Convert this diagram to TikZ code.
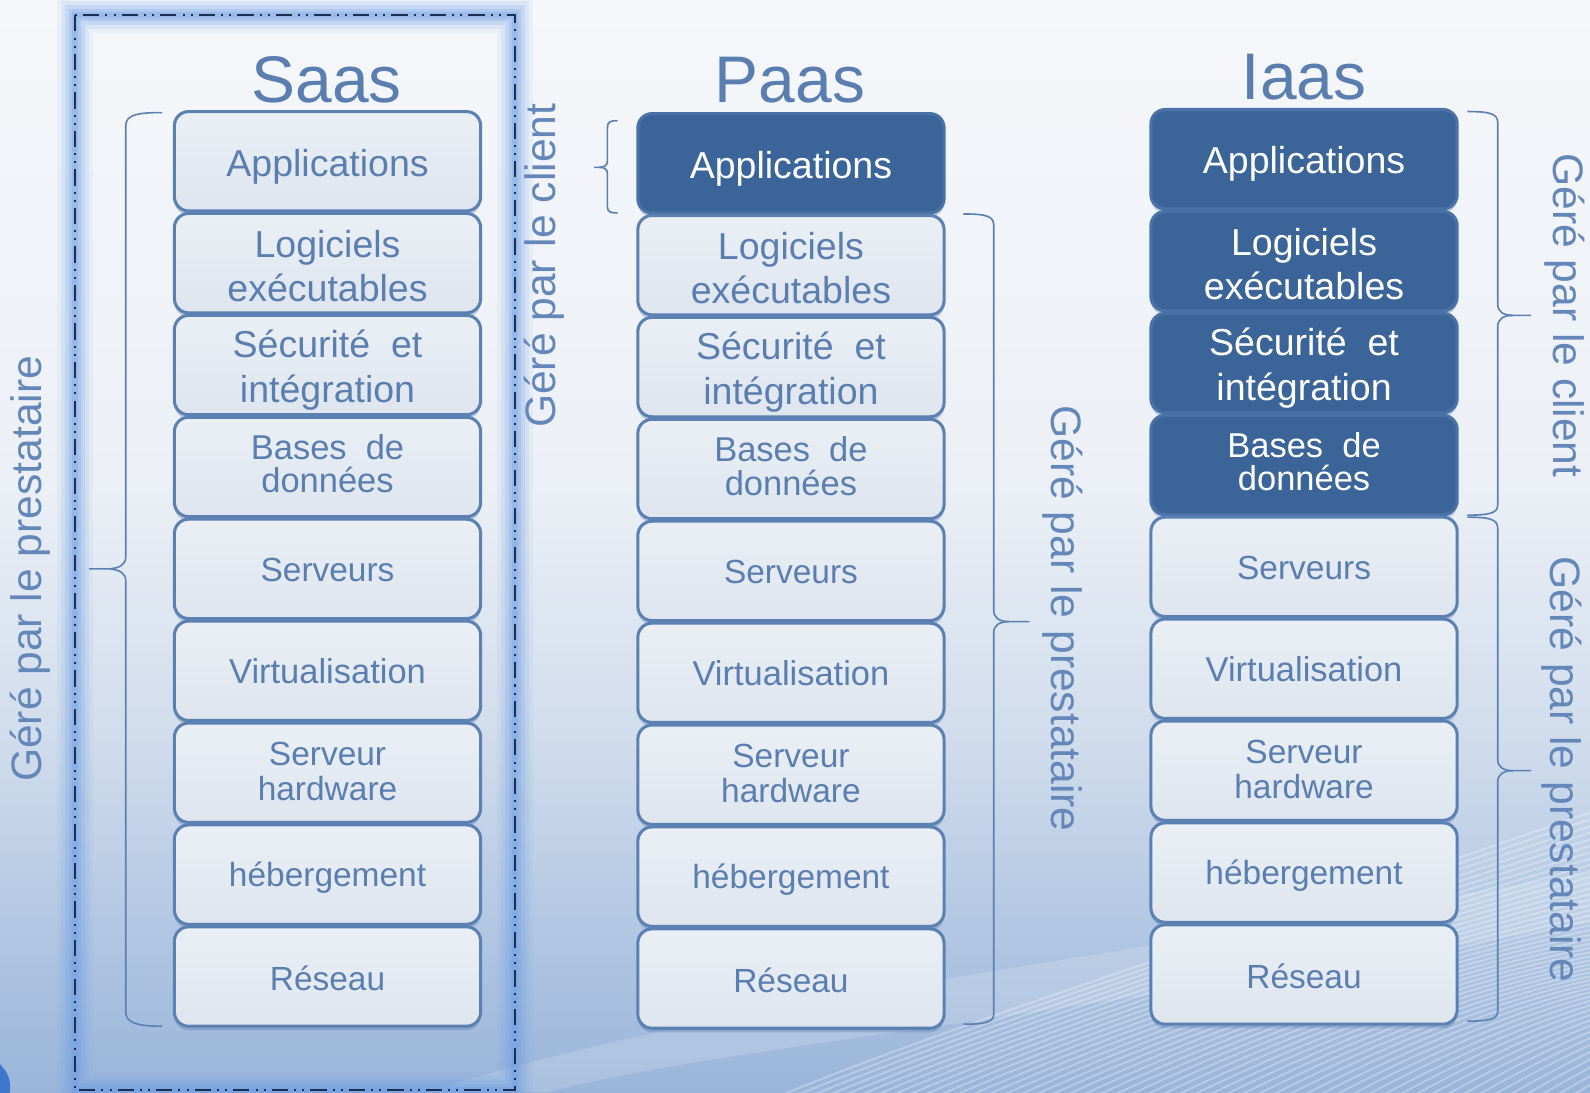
\documentclass[tikz,border=0pt]{standalone}
\usepackage{fontspec}
\setmainfont{Liberation Sans}
\usetikzlibrary{shadows}
\definecolor{bordc}{HTML}{5B80B2}
\definecolor{lighttop}{HTML}{EAEFF5}
\definecolor{lightbot}{HTML}{DEE5EE}
\definecolor{darkf}{HTML}{3B6598}
\definecolor{darkb}{HTML}{4A72A6}
\definecolor{txtc}{HTML}{5A7EAF}
\definecolor{lblc}{HTML}{6387B8}
\definecolor{navy}{HTML}{1B2F52}
\definecolor{glowc}{HTML}{6A9CE6}
\definecolor{shadc}{HTML}{4C6F9F}
\definecolor{ballc}{HTML}{3D78CC}
\definecolor{bgA}{HTML}{9AB5D9}
\definecolor{bgB}{HTML}{B3C8E3}
\definecolor{bgC}{HTML}{D0DCEC}
\definecolor{bgD}{HTML}{ECF0F6}
\definecolor{bgE}{HTML}{F5F7FA}
\pgfdeclareverticalshading{bgshade}{100bp}{color(0bp)=(bgA); color(25bp)=(bgA); color(33bp)=(bgB); color(41bp)=(bgC); color(53bp)=(bgD); color(75bp)=(bgE); color(100bp)=(bgE)}
\tikzset{
  layer/.style={rounded corners=14pt, line width=3pt, minimum width=302pt, minimum height=98pt, inner sep=0pt,
    drop shadow={shadow xshift=0pt, shadow yshift=-4pt, opacity=0.3, fill=shadc}},
  lightbox/.style={draw=bordc, top color=lighttop, bottom color=lightbot},
  darkbox/.style={draw=darkb, fill=darkf},
  boxtext/.style={align=center, inner sep=0pt},
  title/.style={anchor=base, text=txtc, font=\fontsize{65}{70}\selectfont, inner sep=0pt},
  lbl/.style={text=lblc, font=\fontsize{42}{48}\selectfont, inner sep=0pt},
  brc/.style={draw=bordc, line width=1.6pt}
}
\newcommand\colstack[4]{%
  \foreach \k/\txt/\fsz/\fls/\dy in {1/Applications/37/44/5, 2/{Logiciels\\exécutables}/37/44/3, 3/{Sécurité\ \ et\\intégration}/37/44/5, 4/{Bases\ \ de\\données}/34/33/-3, 5/Serveurs/33/35/1, 6/Virtualisation/34/35/0, 7/{Serveur\\hardware}/33/35/-1, 8/hébergement/33/35/3, 9/Réseau/33/35/2}{%
    \pgfmathsetmacro\cy{#3+49+(\k-1)*100.5}%
    \pgfmathsetmacro\ty{\cy+\dy}%
    \ifnum\k>#4\relax
      \node[layer, lightbox] (#1\k) at (#2,\cy) {};
      \node[boxtext, text=txtc, font=\fontsize{\fsz}{\fls}\selectfont] (#1\k t) at (#2,\ty) {\txt};
    \else
      \node[layer, darkbox] (#1\k) at (#2,\cy) {};
      \node[boxtext, text=white, font=\fontsize{\fsz}{\fls}\selectfont] (#1\k t) at (#2,\ty) {\txt};
    \fi
  }%
}
\begin{document}
\begin{tikzpicture}[x=1pt, y=-1pt]
\useasboundingbox (0,0) rectangle (1568,1077);
% background
\shade[shading=bgshade] (0,0) rectangle (1568,1077);
\begin{scope}
  \clip (0,0) rectangle (1568,1077);
  \fill[white, opacity=0.16] (420,1077) .. controls (700,990) and (1000,960) .. (1568,860) -- (1568,910) .. controls (1000,1010) and (700,1035) .. (540,1077) -- cycle;
  \foreach \i in {0,...,50}{
    \draw[white, opacity=0.3, line width=1.8pt] (700+16*\i,1110) .. controls (900+15*\i,1020) and (1200+12*\i,930) .. (1600+6*\i,790+5*\i);
  }
  \fill[ballc] (-20,1072) circle (30);
\end{scope}
% Saas highlight frame
\draw[glowc, line width=36pt, opacity=0.08] (74,15) rectangle (508,1075);
\draw[glowc, line width=28pt, opacity=0.12] (74,15) rectangle (508,1075);
\draw[glowc, line width=20pt, opacity=0.18] (74,15) rectangle (508,1075);
\draw[glowc, line width=12pt, opacity=0.25] (74,15) rectangle (508,1075);
\draw[glowc, line width=6pt, opacity=0.3] (74,15) rectangle (508,1075);
\draw[navy, line width=2.2pt, dash pattern=on 16pt off 6pt on 2pt off 6pt on 2pt off 6pt] (74,15) rectangle (508,1075);
% titles
\node[title] (tS) at (322,101) {Saas};
\node[title] (tP) at (779,101) {Paas};
\node[title] (tI) at (1286,98) {Iaas};
% stacks
\colstack{s}{323}{110}{0}
\colstack{p}{780}{112}{1}
\colstack{i}{1286}{108}{4}
% braces
\draw[brc] (160,111) .. controls (136,111) and (124,113) .. (124,124) -- (124,549) .. controls (124,557) and (118,560) .. (108,561) -- (88,561);
\draw[brc] (108,561) .. controls (118,562) and (124,565) .. (124,573) -- (124,998) .. controls (124,1009) and (136,1012) .. (160,1012);
\draw[brc] (609,119) .. controls (602,119) and (599,120) .. (599,126) -- (599,159) .. controls (599,163) and (596,165) .. (591,165) -- (586,165);
\draw[brc] (591,165) .. controls (596,165) and (599,167) .. (599,171) -- (599,204) .. controls (599,209) and (602,210) .. (609,210);
\draw[brc] (950,211) .. controls (972,211) and (980,213) .. (980,222) -- (980,602) .. controls (980,609) and (985,613) .. (995,613) -- (1015,613);
\draw[brc] (995,613) .. controls (985,613) and (980,617) .. (980,624) -- (980,1000) .. controls (980,1008) and (972,1010) .. (950,1010);
\draw[brc] (1447,110) .. controls (1469,110) and (1477,112) .. (1477,121) -- (1477,300) .. controls (1477,307) and (1482,311) .. (1492,311) -- (1510,311);
\draw[brc] (1492,311) .. controls (1482,311) and (1477,315) .. (1477,322) -- (1477,498) .. controls (1477,506) and (1469,508) .. (1447,508);
\draw[brc] (1447,510) .. controls (1469,510) and (1477,512) .. (1477,521) -- (1477,749) .. controls (1477,756) and (1482,760) .. (1492,760) -- (1510,760);
\draw[brc] (1492,760) .. controls (1482,760) and (1477,764) .. (1477,771) -- (1477,997) .. controls (1477,1005) and (1469,1007) .. (1447,1007);
% labels
\node[lbl, rotate=90] (lS1) at (30,561) {Géré par le prestataire};
\node[lbl, rotate=90] (lS2) at (537,262) {Géré par le client};
\node[lbl, rotate=-90] (lP) at (1048,610) {Géré par le prestataire};
\node[lbl, rotate=-90] (lI1) at (1543,311) {Géré par le client};
\node[lbl, rotate=-90] (lI2) at (1540,759) {Géré par le prestataire};
\end{tikzpicture}
\end{document}
